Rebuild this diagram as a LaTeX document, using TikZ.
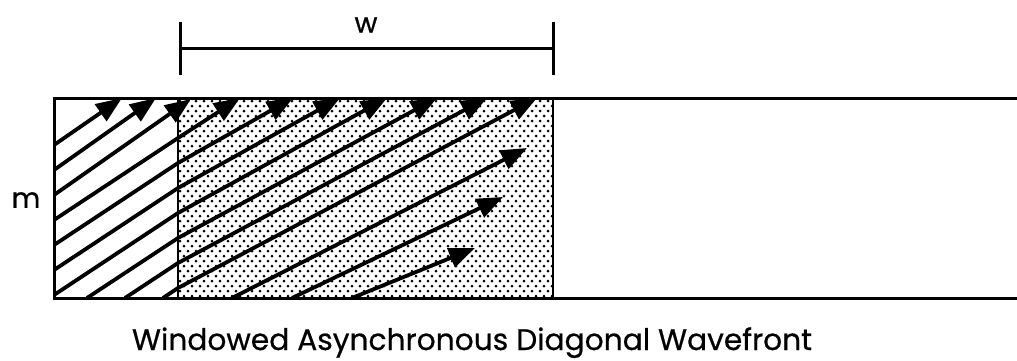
\documentclass[tikz,border=0pt]{standalone}
\usepackage{fontspec}
\setmainfont{Poppins}[FakeBold=0.6]
\usetikzlibrary{arrows.meta}
\tikzset{
  frame/.style={line width=3pt},
  divider/.style={line width=2.2pt},
  wave/.style={line width=3.8pt, -{Triangle[length=26pt,width=20pt]}},
  dotmark/.style={fill=black},
  bracket/.style={line width=3pt},
  lbl/.style={font=\fontsize{28}{30}\selectfont, inner sep=0pt},
}
\begin{document}
\begin{tikzpicture}[x=1pt,y=-1pt]
\useasboundingbox (0,0) rectangle (1017,360);
\coordinate (TL) at (54,98);
\coordinate (BL) at (54,298);
\coordinate (DT) at (178,98);
\coordinate (DB) at (178,298);
\coordinate (WT) at (553,98);
\coordinate (WB) at (553,298);
\coordinate (RT) at (1017,98);
\coordinate (RB) at (1017,298);
% dotted window
\begin{scope}
  \clip (DT) rectangle (WB);
  \foreach \j in {0,...,41}{
    \foreach \i in {0,...,48}{
      \fill[dotmark] ({180+\i*8+mod(\j,2)*4},{101+\j*5}) circle (1.5);
    }
  }
\end{scope}
% wavefront lines
\begin{scope}
  \clip (54,96.5) rectangle (553,299.5);
  \draw[wave] (54,145) -- (122,98);
  \draw[wave] (54,170) -- (156,98);
  \draw[wave] (54,195) -- (191,99);
  \draw[wave] (54,220) -- (178,138) -- (240,98);
  \draw[wave] (54,245) -- (178,163) -- (293,98);
  \draw[wave] (54,270) -- (178,188) -- (340,98);
  \draw[wave] (54,295) -- (178,213) -- (387,98);
  \draw[wave] (87,298) -- (178,238) -- (437,98);
  \draw[wave] (125,298) -- (178,263) -- (487,98);
  \draw[wave] (163,298) -- (178,288) -- (537,98);
  \draw[wave] (232,298) -- (527,148);
  \draw[wave] (292,298) -- (503,197);
  \draw[wave] (352,298) -- (475,248);
\end{scope}
% frame
\draw[divider] (DT) -- (DB);
\draw[divider] (WT) -- (WB);
\draw[frame] (RT) -- (TL) -- (BL) -- (RB);
% bracket for w
\coordinate (BLt) at (180,22);
\coordinate (BLb) at (180,75);
\coordinate (BRt) at (553,22);
\coordinate (BRb) at (553,75);
\coordinate (BLm) at (180,48);
\coordinate (BRm) at (553,48);
\draw[bracket] (BLt) -- (BLb);
\draw[bracket] (BRt) -- (BRb);
\draw[bracket] (BLm) -- (BRm);
\node[lbl] (w) at (366,25) {w};
\node[lbl] (m) at (26,200) {m};
\node[inner sep=0pt, anchor=base] (cap) at (472,350) {\resizebox{680pt}{!}{Windowed Asynchronous Diagonal Wavefront}};
\end{tikzpicture}
\end{document}
